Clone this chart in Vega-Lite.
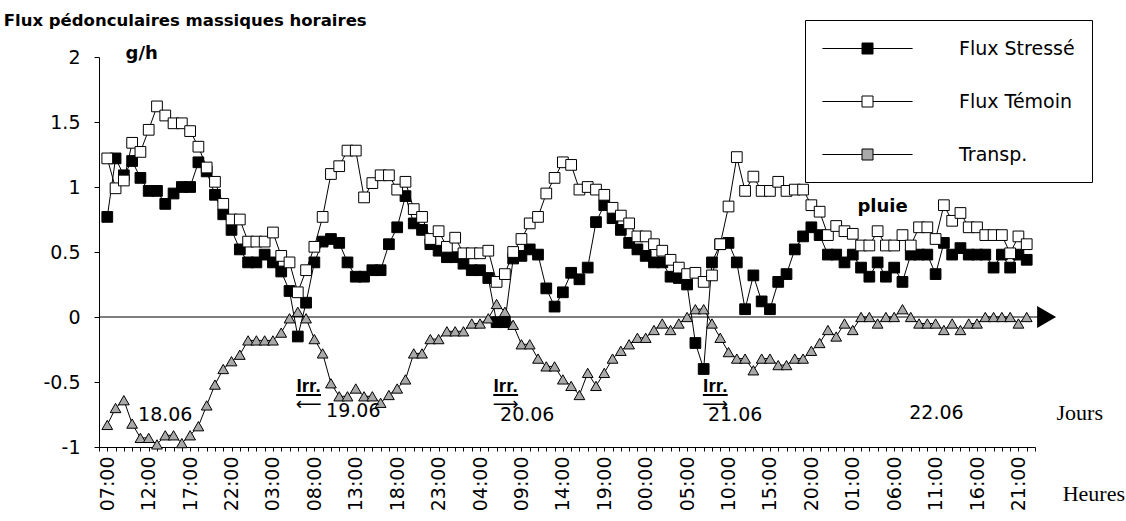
{
  "$schema": "https://vega.github.io/schema/vega-lite/v6.json",
  "autosize": {"type": "none"},
  "width": 936,
  "height": 390,
  "padding": {"left": 99, "top": 57, "right": 91, "bottom": 74},
  "background": "white",
  "config": {"view": {"stroke": null}, "font": "DejaVu Sans", "text": {"color": "black"}},
  "datasets": {
    "flux": [
      {"h":0,"Flux Stressé":0.77,"Flux Témoin":1.22,"Transp.":-0.83},
      {"h":1,"Flux Stressé":1.22,"Flux Témoin":0.99,"Transp.":-0.70},
      {"h":2,"Flux Stressé":1.09,"Flux Témoin":1.05,"Transp.":-0.64},
      {"h":3,"Flux Stressé":1.20,"Flux Témoin":1.34,"Transp.":-0.82},
      {"h":4,"Flux Stressé":1.07,"Flux Témoin":1.27,"Transp.":-0.93},
      {"h":5,"Flux Stressé":0.97,"Flux Témoin":1.44,"Transp.":-0.93},
      {"h":6,"Flux Stressé":0.97,"Flux Témoin":1.62,"Transp.":-0.98},
      {"h":7,"Flux Stressé":0.87,"Flux Témoin":1.55,"Transp.":-0.91},
      {"h":8,"Flux Stressé":0.95,"Flux Témoin":1.49,"Transp.":-0.91},
      {"h":9,"Flux Stressé":1.00,"Flux Témoin":1.49,"Transp.":-0.97},
      {"h":10,"Flux Stressé":1.00,"Flux Témoin":1.43,"Transp.":-0.91},
      {"h":11,"Flux Stressé":1.19,"Flux Témoin":1.31,"Transp.":-0.84},
      {"h":12,"Flux Stressé":1.12,"Flux Témoin":1.15,"Transp.":-0.68},
      {"h":13,"Flux Stressé":0.94,"Flux Témoin":1.04,"Transp.":-0.52},
      {"h":14,"Flux Stressé":0.79,"Flux Témoin":0.87,"Transp.":-0.40},
      {"h":15,"Flux Stressé":0.67,"Flux Témoin":0.75,"Transp.":-0.34},
      {"h":16,"Flux Stressé":0.52,"Flux Témoin":0.75,"Transp.":-0.29},
      {"h":17,"Flux Stressé":0.42,"Flux Témoin":0.58,"Transp.":-0.18},
      {"h":18,"Flux Stressé":0.42,"Flux Témoin":0.58,"Transp.":-0.18},
      {"h":19,"Flux Stressé":0.48,"Flux Témoin":0.58,"Transp.":-0.18},
      {"h":20,"Flux Stressé":0.42,"Flux Témoin":0.65,"Transp.":-0.18},
      {"h":21,"Flux Stressé":0.35,"Flux Témoin":0.47,"Transp.":-0.12},
      {"h":22,"Flux Stressé":0.20,"Flux Témoin":0.42,"Transp.":-0.01},
      {"h":23,"Flux Stressé":-0.15,"Flux Témoin":0.19,"Transp.":0.04},
      {"h":24,"Flux Stressé":0.11,"Flux Témoin":0.36,"Transp.":-0.01},
      {"h":25,"Flux Stressé":0.42,"Flux Témoin":0.54,"Transp.":-0.17},
      {"h":26,"Flux Stressé":0.58,"Flux Témoin":0.77,"Transp.":-0.28},
      {"h":27,"Flux Stressé":0.60,"Flux Témoin":1.10,"Transp.":-0.51},
      {"h":28,"Flux Stressé":0.57,"Flux Témoin":1.16,"Transp.":-0.61},
      {"h":29,"Flux Stressé":0.42,"Flux Témoin":1.28,"Transp.":-0.61},
      {"h":30,"Flux Stressé":0.31,"Flux Témoin":1.28,"Transp.":-0.55},
      {"h":31,"Flux Stressé":0.31,"Flux Témoin":0.92,"Transp.":-0.61},
      {"h":32,"Flux Stressé":0.36,"Flux Témoin":1.03,"Transp.":-0.61},
      {"h":33,"Flux Stressé":0.36,"Flux Témoin":1.09,"Transp.":-0.66},
      {"h":34,"Flux Stressé":0.56,"Flux Témoin":1.09,"Transp.":-0.60},
      {"h":35,"Flux Stressé":0.69,"Flux Témoin":0.98,"Transp.":-0.55},
      {"h":36,"Flux Stressé":0.93,"Flux Témoin":1.04,"Transp.":-0.48},
      {"h":37,"Flux Stressé":0.72,"Flux Témoin":0.83,"Transp.":-0.28},
      {"h":38,"Flux Stressé":0.67,"Flux Témoin":0.77,"Transp.":-0.28},
      {"h":39,"Flux Stressé":0.56,"Flux Témoin":0.60,"Transp.":-0.17},
      {"h":40,"Flux Stressé":0.51,"Flux Témoin":0.66,"Transp.":-0.17},
      {"h":41,"Flux Stressé":0.46,"Flux Témoin":0.54,"Transp.":-0.11},
      {"h":42,"Flux Stressé":0.46,"Flux Témoin":0.61,"Transp.":-0.11},
      {"h":43,"Flux Stressé":0.41,"Flux Témoin":0.49,"Transp.":-0.11},
      {"h":44,"Flux Stressé":0.36,"Flux Témoin":0.49,"Transp.":-0.05},
      {"h":45,"Flux Stressé":0.36,"Flux Témoin":0.49,"Transp.":-0.05},
      {"h":46,"Flux Stressé":0.30,"Flux Témoin":0.51,"Transp.":-0.01},
      {"h":47,"Flux Stressé":-0.04,"Flux Témoin":0.27,"Transp.":0.10},
      {"h":48,"Flux Stressé":-0.04,"Flux Témoin":0.33,"Transp.":0.04},
      {"h":49,"Flux Stressé":0.45,"Flux Témoin":0.50,"Transp.":-0.06},
      {"h":50,"Flux Stressé":0.47,"Flux Témoin":0.60,"Transp.":-0.21},
      {"h":51,"Flux Stressé":0.52,"Flux Témoin":0.72,"Transp.":-0.21},
      {"h":52,"Flux Stressé":0.48,"Flux Témoin":0.77,"Transp.":-0.32},
      {"h":53,"Flux Stressé":0.22,"Flux Témoin":0.95,"Transp.":-0.38},
      {"h":54,"Flux Stressé":0.08,"Flux Témoin":1.07,"Transp.":-0.38},
      {"h":55,"Flux Stressé":0.19,"Flux Témoin":1.19,"Transp.":-0.48},
      {"h":56,"Flux Stressé":0.34,"Flux Témoin":1.17,"Transp.":-0.53},
      {"h":57,"Flux Stressé":0.29,"Flux Témoin":0.98,"Transp.":-0.60},
      {"h":58,"Flux Stressé":0.38,"Flux Témoin":1.00,"Transp.":-0.43},
      {"h":59,"Flux Stressé":0.73,"Flux Témoin":0.98,"Transp.":-0.53},
      {"h":60,"Flux Stressé":0.86,"Flux Témoin":0.94,"Transp.":-0.43},
      {"h":61,"Flux Stressé":0.76,"Flux Témoin":0.84,"Transp.":-0.32},
      {"h":62,"Flux Stressé":0.67,"Flux Témoin":0.78,"Transp.":-0.26},
      {"h":63,"Flux Stressé":0.57,"Flux Témoin":0.72,"Transp.":-0.21},
      {"h":64,"Flux Stressé":0.52,"Flux Témoin":0.62,"Transp.":-0.16},
      {"h":65,"Flux Stressé":0.47,"Flux Témoin":0.62,"Transp.":-0.16},
      {"h":66,"Flux Stressé":0.42,"Flux Témoin":0.56,"Transp.":-0.10},
      {"h":67,"Flux Stressé":0.42,"Flux Témoin":0.51,"Transp.":-0.05},
      {"h":68,"Flux Stressé":0.31,"Flux Témoin":0.44,"Transp.":-0.10},
      {"h":69,"Flux Stressé":0.30,"Flux Témoin":0.38,"Transp.":-0.05},
      {"h":70,"Flux Stressé":0.25,"Flux Témoin":0.33,"Transp.":0.00},
      {"h":71,"Flux Stressé":-0.20,"Flux Témoin":0.34,"Transp.":0.06},
      {"h":72,"Flux Stressé":-0.40,"Flux Témoin":0.27,"Transp.":0.06},
      {"h":73,"Flux Stressé":0.42,"Flux Témoin":0.32,"Transp.":-0.05},
      {"h":74,"Flux Stressé":0.56,"Flux Témoin":0.56,"Transp.":-0.16},
      {"h":75,"Flux Stressé":0.57,"Flux Témoin":0.85,"Transp.":-0.27},
      {"h":76,"Flux Stressé":0.42,"Flux Témoin":1.23,"Transp.":-0.32},
      {"h":77,"Flux Stressé":0.06,"Flux Témoin":0.97,"Transp.":-0.32},
      {"h":78,"Flux Stressé":0.32,"Flux Témoin":1.08,"Transp.":-0.41},
      {"h":79,"Flux Stressé":0.12,"Flux Témoin":0.97,"Transp.":-0.32},
      {"h":80,"Flux Stressé":0.06,"Flux Témoin":0.97,"Transp.":-0.32},
      {"h":81,"Flux Stressé":0.27,"Flux Témoin":1.04,"Transp.":-0.37},
      {"h":82,"Flux Stressé":0.33,"Flux Témoin":0.97,"Transp.":-0.37},
      {"h":83,"Flux Stressé":0.52,"Flux Témoin":0.98,"Transp.":-0.32},
      {"h":84,"Flux Stressé":0.62,"Flux Témoin":0.98,"Transp.":-0.32},
      {"h":85,"Flux Stressé":0.69,"Flux Témoin":0.86,"Transp.":-0.26},
      {"h":86,"Flux Stressé":0.63,"Flux Témoin":0.81,"Transp.":-0.20},
      {"h":87,"Flux Stressé":0.48,"Flux Témoin":0.63,"Transp.":-0.10},
      {"h":88,"Flux Stressé":0.48,"Flux Témoin":0.70,"Transp.":-0.15},
      {"h":89,"Flux Stressé":0.42,"Flux Témoin":0.66,"Transp.":-0.05},
      {"h":90,"Flux Stressé":0.48,"Flux Témoin":0.64,"Transp.":-0.10},
      {"h":91,"Flux Stressé":0.38,"Flux Témoin":0.55,"Transp.":0.00},
      {"h":92,"Flux Stressé":0.31,"Flux Témoin":0.55,"Transp.":0.00},
      {"h":93,"Flux Stressé":0.42,"Flux Témoin":0.66,"Transp.":-0.05},
      {"h":94,"Flux Stressé":0.31,"Flux Témoin":0.55,"Transp.":0.00},
      {"h":95,"Flux Stressé":0.38,"Flux Témoin":0.55,"Transp.":0.00},
      {"h":96,"Flux Stressé":0.27,"Flux Témoin":0.63,"Transp.":0.06},
      {"h":97,"Flux Stressé":0.48,"Flux Témoin":0.55,"Transp.":0.00},
      {"h":98,"Flux Stressé":0.48,"Flux Témoin":0.69,"Transp.":-0.05},
      {"h":99,"Flux Stressé":0.48,"Flux Témoin":0.69,"Transp.":-0.05},
      {"h":100,"Flux Stressé":0.33,"Flux Témoin":0.60,"Transp.":-0.05},
      {"h":101,"Flux Stressé":0.57,"Flux Témoin":0.86,"Transp.":-0.10},
      {"h":102,"Flux Stressé":0.48,"Flux Témoin":0.74,"Transp.":-0.05},
      {"h":103,"Flux Stressé":0.53,"Flux Témoin":0.80,"Transp.":-0.10},
      {"h":104,"Flux Stressé":0.48,"Flux Témoin":0.69,"Transp.":-0.05},
      {"h":105,"Flux Stressé":0.48,"Flux Témoin":0.69,"Transp.":-0.05},
      {"h":106,"Flux Stressé":0.48,"Flux Témoin":0.63,"Transp.":0.00},
      {"h":107,"Flux Stressé":0.38,"Flux Témoin":0.63,"Transp.":0.00},
      {"h":108,"Flux Stressé":0.48,"Flux Témoin":0.63,"Transp.":0.00},
      {"h":109,"Flux Stressé":0.38,"Flux Témoin":0.49,"Transp.":0.00},
      {"h":110,"Flux Stressé":0.48,"Flux Témoin":0.62,"Transp.":-0.05},
      {"h":111,"Flux Stressé":0.44,"Flux Témoin":0.56,"Transp.":0.00}
    ]
  },
  "layer": [
    {
      "data": {"name": "flux"},
      "transform": [{"fold": ["Flux Stressé", "Flux Témoin", "Transp\\."], "as": ["serie", "v"]}],
      "mark": {"type": "line", "stroke": "black", "strokeWidth": 1},
      "encoding": {
        "x": {
          "field": "h", "type": "quantitative",
          "scale": {"domain": [-1, 112], "nice": false, "zero": false},
          "axis": {
            "title": null, "grid": false, "tickCount": 113, "labelOverlap": false, "labelBound": false, "labelFlush": false,
            "labelExpr": "datum.value % 5 === 0 && datum.value >= 0 ? ((datum.value + 7) % 24 < 10 ? '0' : '') + ((datum.value + 7) % 24) + ':00' : ''",
            "labelAngle": 270, "labelFont": "DejaVu Sans", "labelFontSize": 19, "labelColor": "black",
            "labelPadding": 5, "tickSize": 4, "tickColor": "black", "domainColor": "black", "domainWidth": 1, "tickWidth": 1
          }
        },
        "y": {
          "field": "v", "type": "quantitative",
          "scale": {"domain": [-1, 2], "nice": false, "zero": false},
          "axis": {
            "title": null, "grid": false, "values": [-1, -0.5, 0, 0.5, 1, 1.5, 2], "format": "~g",
            "labelExpr": "replace(datum.label, '−', '-')",
            "labelFont": "DejaVu Sans", "labelFontSize": 19, "labelColor": "black",
            "labelPadding": 14, "tickSize": 5, "tickColor": "black", "domainColor": "black", "domainWidth": 1, "tickWidth": 1
          }
        },
        "detail": {"field": "serie", "type": "nominal"}
      }
    },
    {
      "data": {"values": [{}]},
      "mark": {"type": "rule", "color": "black", "strokeWidth": 1.2},
      "encoding": {
        "x": {"datum": -1, "type": "quantitative"},
        "x2": {"datum": 113},
        "y": {"datum": 0, "type": "quantitative"}
      }
    },
    {
      "data": {"values": [{}]},
      "mark": {"type": "point", "shape": "triangle-right", "filled": true, "color": "black", "size": 480, "opacity": 1},
      "encoding": {
        "x": {"datum": 113.4, "type": "quantitative"},
        "y": {"datum": 0, "type": "quantitative"}
      }
    },
    {
      "data": {"name": "flux"},
      "transform": [{"fold": ["Flux Stressé", "Flux Témoin", "Transp\\."], "as": ["serie", "v"]}],
      "mark": {"type": "point", "filled": true, "stroke": "black", "strokeWidth": 1, "size": 115, "opacity": 1},
      "encoding": {
        "x": {"field": "h", "type": "quantitative"},
        "y": {"field": "v", "type": "quantitative"},
        "order": {"field": "serie", "type": "nominal"},
        "shape": {"condition": {"test": "datum.serie === 'Transp.'", "value": "triangle-up"}, "value": "square"},
        "fill": {
          "field": "serie", "type": "nominal",
          "scale": {"domain": ["Flux Stressé", "Flux Témoin", "Transp."], "range": ["black", "white", "#a9a9a9"]},
          "legend": {
            "title": null, "orient": "none", "legendX": 706, "legendY": -37, "direction": "vertical",
            "padding": 17, "strokeColor": "black", "fillColor": "white",
            "symbolType": "M-4.1,0H-0.5M0.5,0H4.1M-0.5,-0.5H0.5V0.5H-0.5Z",
            "symbolSize": 484, "symbolOffset": 34, "symbolStrokeWidth": 1, "symbolStrokeColor": "black",
            "labelFont": "DejaVu Sans", "labelFontSize": 19, "labelColor": "black", "labelOffset": 80, "labelLimit": 300,
            "rowPadding": 31,
            "encode": {
              "symbols": {
                "stroke": {"value": "black"},
                "strokeWidth": {"value": 1}
              }
            }
          }
        }
      }
    },
    {
      "data": {"values": [{}]},
      "mark": {"type": "text", "text": "Flux pédonculaires massiques horaires", "font": "DejaVu Sans", "fontWeight": "bold", "fontSize": 16.5, "align": "left", "baseline": "alphabetic"},
      "encoding": {"x": {"datum": -12.5, "type": "quantitative"}, "y": {"datum": 2.24, "type": "quantitative"}}
    },
    {
      "data": {"values": [{}]},
      "mark": {"type": "text", "text": "g/h", "font": "DejaVu Sans", "fontWeight": "bold", "fontSize": 18, "align": "left", "baseline": "middle"},
      "encoding": {"x": {"datum": 2.2, "type": "quantitative"}, "y": {"datum": 2.02, "type": "quantitative"}}
    },
    {
      "data": {"values": [{}]},
      "mark": {"type": "text", "text": "pluie", "font": "DejaVu Sans", "fontWeight": "bold", "fontSize": 18, "align": "center", "baseline": "middle"},
      "encoding": {"x": {"datum": 93.6, "type": "quantitative"}, "y": {"datum": 0.85, "type": "quantitative"}}
    },
    {
      "data": {"values": [{}]},
      "mark": {"type": "text", "text": "18.06", "font": "DejaVu Sans", "fontSize": 19, "align": "center", "baseline": "middle"},
      "encoding": {"x": {"datum": 7.0, "type": "quantitative"}, "y": {"datum": -0.75, "type": "quantitative"}}
    },
    {
      "data": {"values": [{}]},
      "mark": {"type": "text", "text": "19.06", "font": "DejaVu Sans", "fontSize": 19, "align": "center", "baseline": "middle"},
      "encoding": {"x": {"datum": 29.7, "type": "quantitative"}, "y": {"datum": -0.72, "type": "quantitative"}}
    },
    {
      "data": {"values": [{}]},
      "mark": {"type": "text", "text": "20.06", "font": "DejaVu Sans", "fontSize": 19, "align": "center", "baseline": "middle"},
      "encoding": {"x": {"datum": 50.7, "type": "quantitative"}, "y": {"datum": -0.755, "type": "quantitative"}}
    },
    {
      "data": {"values": [{}]},
      "mark": {"type": "text", "text": "21.06", "font": "DejaVu Sans", "fontSize": 19, "align": "center", "baseline": "middle"},
      "encoding": {"x": {"datum": 75.8, "type": "quantitative"}, "y": {"datum": -0.755, "type": "quantitative"}}
    },
    {
      "data": {"values": [{}]},
      "mark": {"type": "text", "text": "22.06", "font": "DejaVu Sans", "fontSize": 19, "align": "center", "baseline": "middle"},
      "encoding": {"x": {"datum": 100.1, "type": "quantitative"}, "y": {"datum": -0.735, "type": "quantitative"}}
    },
    {
      "data": {"values": [{}]},
      "mark": {"type": "text", "text": "Jours", "font": "Liberation Serif", "fontSize": 22, "align": "center", "baseline": "middle"},
      "encoding": {"x": {"datum": 117.4, "type": "quantitative"}, "y": {"datum": -0.735, "type": "quantitative"}}
    },
    {
      "data": {"values": [{}]},
      "mark": {"type": "text", "text": "Heures", "font": "Liberation Serif", "fontSize": 22, "align": "center", "baseline": "middle"},
      "encoding": {"x": {"datum": 119.1, "type": "quantitative"}, "y": {"datum": -1.36, "type": "quantitative"}}
    },
    {
      "data": {"values": [{}]},
      "mark": {"type": "text", "text": "Irr.", "font": "Liberation Sans", "fontWeight": "bold", "fontSize": 19, "align": "center", "baseline": "alphabetic"},
      "encoding": {"x": {"datum": 24.3, "type": "quantitative"}, "y": {"datum": -0.575, "type": "quantitative"}}
    },
    {
      "data": {"values": [{}]},
      "mark": {"type": "text", "text": "Irr.", "font": "Liberation Sans", "fontWeight": "bold", "fontSize": 19, "align": "center", "baseline": "alphabetic"},
      "encoding": {"x": {"datum": 48.1, "type": "quantitative"}, "y": {"datum": -0.575, "type": "quantitative"}}
    },
    {
      "data": {"values": [{}]},
      "mark": {"type": "text", "text": "Irr.", "font": "Liberation Sans", "fontWeight": "bold", "fontSize": 19, "align": "center", "baseline": "alphabetic"},
      "encoding": {"x": {"datum": 73.4, "type": "quantitative"}, "y": {"datum": -0.575, "type": "quantitative"}}
    },
    {
      "data": {"values": [{}]},
      "mark": {"type": "rule", "color": "black", "strokeWidth": 2},
      "encoding": {"x": {"datum": 22.8, "type": "quantitative"}, "x2": {"datum": 25.8}, "y": {"datum": -0.6, "type": "quantitative"}}
    },
    {
      "data": {"values": [{}]},
      "mark": {"type": "rule", "color": "black", "strokeWidth": 2},
      "encoding": {"x": {"datum": 46.6, "type": "quantitative"}, "x2": {"datum": 49.6}, "y": {"datum": -0.6, "type": "quantitative"}}
    },
    {
      "data": {"values": [{}]},
      "mark": {"type": "rule", "color": "black", "strokeWidth": 2},
      "encoding": {"x": {"datum": 71.9, "type": "quantitative"}, "x2": {"datum": 74.9}, "y": {"datum": -0.6, "type": "quantitative"}}
    },
    {
      "data": {"values": [{}]},
      "mark": {"type": "text", "text": "⟵", "font": "DejaVu Sans", "fontSize": 18, "align": "center", "baseline": "middle"},
      "encoding": {"x": {"datum": 24.3, "type": "quantitative"}, "y": {"datum": -0.68, "type": "quantitative"}}
    },
    {
      "data": {"values": [{}]},
      "mark": {"type": "text", "text": "⟶", "font": "DejaVu Sans", "fontSize": 18, "align": "center", "baseline": "middle"},
      "encoding": {"x": {"datum": 48.1, "type": "quantitative"}, "y": {"datum": -0.68, "type": "quantitative"}}
    },
    {
      "data": {"values": [{}]},
      "mark": {"type": "text", "text": "⟶", "font": "DejaVu Sans", "fontSize": 18, "align": "center", "baseline": "middle"},
      "encoding": {"x": {"datum": 73.4, "type": "quantitative"}, "y": {"datum": -0.68, "type": "quantitative"}}
    }
  ]
}
